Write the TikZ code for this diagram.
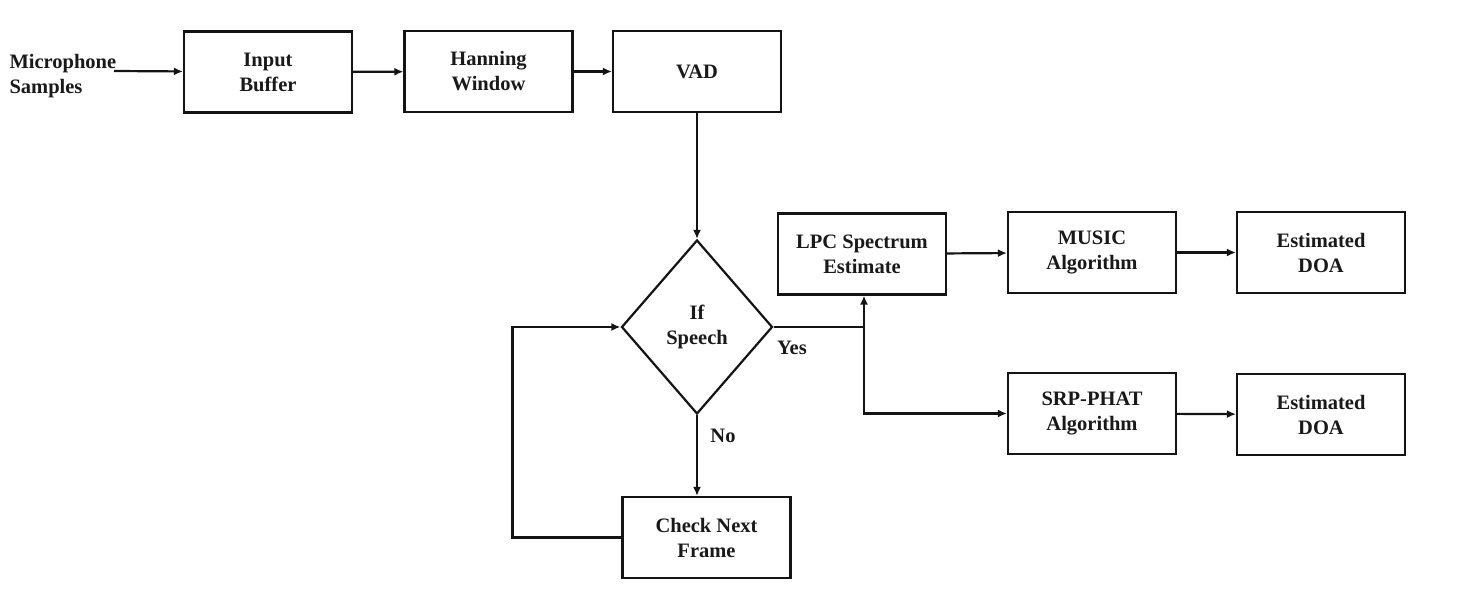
\documentclass[tikz,border=0pt]{standalone}
\usepackage{fontspec}
\setmainfont{Liberation Serif}
\usepackage{tikz}
\usepackage{xcolor}
\usetikzlibrary{positioning, shapes.geometric, arrows.meta}
\definecolor{flowline}{RGB}{20, 20, 20}
\definecolor{flowtext}{RGB}{25, 25, 25}
\tikzset{
    flowtxt/.style={font=\fontsize{20.5}{25}\selectfont\bfseries, text=flowtext, align=center},
    blockbox/.style={flowtxt, rectangle, draw=flowline, line width=2.2pt, minimum width=168pt, minimum height=81pt, inner sep=2pt},
    decision/.style={flowtxt, diamond, draw=flowline, line width=2.2pt, minimum width=151pt, minimum height=174pt, inner sep=0pt},
    flowarrow/.style={draw=flowline, line width=2.2pt, -{Latex[length=9pt, width=8pt]}},
    flowplain/.style={draw=flowline, line width=2.2pt}
}

\begin{document}
\begin{tikzpicture}[x=1pt, y=1pt]
    \useasboundingbox (0,0) rectangle (1465,598);
    \node[flowtxt, align=left, anchor=west] (mic) at (6,522) {Microphone\\Samples};
    \coordinate (micend) at (114,527);
    \node[blockbox] (inbuf) at (268,526) {Input\\Buffer};
    \node[blockbox] (hann) at (488.5,526.5) {Hanning\\Window};
    \node[blockbox] (vad) at (697,526.5) {VAD};
    \node[decision] (ifsp) at (697,271) {If\\Speech};
    \node[blockbox] (chk) at (706.5,60.5) {Check Next\\Frame};
    \node[blockbox] (lpc) at (862,344) {LPC Spectrum\\Estimate};
    \node[blockbox] (music) at (1092,345.5) {MUSIC\\Algorithm};
    \node[blockbox] (doaa) at (1321,345.5) {Estimated\\DOA};
    \node[blockbox] (srp) at (1092,184.5) {SRP-PHAT\\Algorithm};
    \node[blockbox] (doab) at (1321,183.5) {Estimated\\DOA};
    \node[flowtxt] (yes) at (792,250) {Yes};
    \node[flowtxt] (no) at (723,162) {No};
    \coordinate (split) at (864,271);

    \draw[flowarrow] (micend) -- (inbuf);
    \draw[flowarrow] (inbuf) -- (hann);
    \draw[flowarrow] (hann) -- (vad);
    \draw[flowarrow] (vad) -- (ifsp);
    \draw[flowarrow] (ifsp) -- (chk.north -| ifsp);
    \draw[flowarrow] (chk.west) -- ++(-109,0) |- (ifsp.west);
    \draw[flowplain] (ifsp.east) -- (split);
    \draw[flowarrow] (split) -- (split |- lpc.south);
    \draw[flowarrow] (split) |- (srp.west);
    \draw[flowarrow] (lpc) -- (music);
    \draw[flowarrow] (music) -- (doaa);
    \draw[flowarrow] (srp) -- (doab);
\end{tikzpicture}
\end{document}
